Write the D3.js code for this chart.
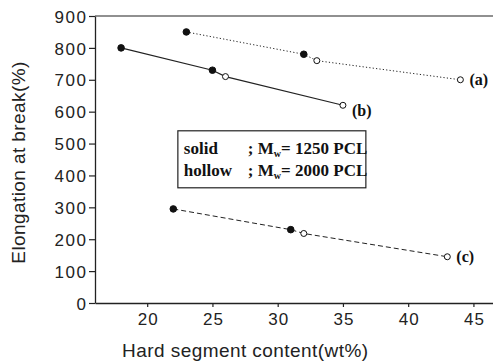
<!DOCTYPE html>
<html>
<head>
<meta charset="utf-8">
<script src="https://cdn.jsdelivr.net/npm/d3@7"></script>
<style>
  body { margin: 0; background: #fff; }
  .tick text { font-family: "Liberation Sans", Arial, sans-serif; font-size: 17px; fill: #222; }
</style>
</head>
<body>
<figure id="chart" style="margin:0"></figure>
<script>
// data
var seriesNames = ["(a)", "(b)", "(c)"];
var hardA = [23, 32, 33, 44];
var elongA = [850, 780, 760, 700];
var hardB = [18, 25, 26, 35];
var elongB = [800, 730, 710, 620];
var hardC = [22, 31, 32, 43];
var elongC = [295, 230, 218, 145];
// first two points solid (Mw 1250), last two hollow (Mw 2000)
var filled = [true, true, false, false];
var xTicks = [20, 25, 30, 35, 40, 45];
var yTicks = [0, 100, 200, 300, 400, 500, 600, 700, 800, 900];

let dimensions = {
    width: 493,
    height: 364,
    margin: { top: 16, right: 0, bottom: 61, left: 95 },
};
dimensions.boundedWidth = dimensions.width - dimensions.margin.left - dimensions.margin.right;
dimensions.boundedHeight = dimensions.height - dimensions.margin.top - dimensions.margin.bottom;

var svg = d3.select("figure#chart")
    .append("svg")
    .attr("width", dimensions.width)
    .attr("height", dimensions.height)
    .append("g")
    .attr("transform", `translate(${dimensions.margin.left}, ${dimensions.margin.top})`);

var xScale = d3.scaleLinear()
    .domain([16, 46.5])
    .range([0, dimensions.boundedWidth]);

var yScale = d3.scaleLinear()
    .domain([0, 900])
    .range([dimensions.boundedHeight, 0]);

// top frame line
svg.append("line")
    .attr("x1", 0).attr("x2", dimensions.boundedWidth)
    .attr("y1", 0).attr("y2", 0)
    .attr("stroke", "#222").attr("stroke-width", 1.2);

var xAxis = svg.append("g")
    .attr("transform", `translate(0, ${dimensions.boundedHeight})`)
    .call(d3.axisBottom(xScale).tickValues(xTicks).tickSize(4).tickSizeOuter(0).tickPadding(6));

var yAxis = svg.append("g")
    .call(d3.axisLeft(yScale).tickValues(yTicks).tickSize(6).tickSizeOuter(0).tickPadding(3));

svg.selectAll(".domain").attr("stroke", "#222").attr("stroke-width", 1.3);
svg.selectAll(".tick line").attr("stroke", "#222").attr("stroke-width", 1.2);
xAxis.selectAll("text").attr("textLength", d => String(d).length * 10);
yAxis.selectAll("text").attr("textLength", d => String(d).length * 10.5).attr("dy", "0.36em");

// axis titles
svg.append("text")
    .attr("x", xScale(27.5))
    .attr("y", dimensions.boundedHeight + 54)
    .attr("text-anchor", "middle")
    .attr("font-family", "Liberation Sans, Arial, sans-serif")
    .attr("font-size", 19)
    .attr("fill", "#222")
    .attr("textLength", 246)
    .text("Hard segment content(wt%)");

svg.append("text")
    .attr("transform", `translate(-70, ${yScale(440)}) rotate(-90)`)
    .attr("text-anchor", "middle")
    .attr("font-family", "Liberation Sans, Arial, sans-serif")
    .attr("font-size", 19)
    .attr("fill", "#222")
    .attr("textLength", 202)
    .text("Elongation at break(%)");

var series = [
    { name: seriesNames[0], xs: hardA, ys: elongA, dash: "1.2,2.2", width: 1 },
    { name: seriesNames[1], xs: hardB, ys: elongB, dash: null, width: 1.2 },
    { name: seriesNames[2], xs: hardC, ys: elongC, dash: "5,3", width: 1 },
];

var line = d3.line()
    .x(d => xScale(d[0]))
    .y(d => yScale(d[1]));

series.forEach(function(s) {
    var pts = s.xs.map((x, i) => [x, s.ys[i], filled[i]]);
    svg.append("path")
        .datum(pts)
        .attr("d", line)
        .attr("fill", "none")
        .attr("stroke", "#222")
        .attr("stroke-width", s.width)
        .attr("stroke-dasharray", s.dash);

    svg.selectAll(null)
        .data(pts)
        .enter()
        .append("circle")
        .attr("cx", d => xScale(d[0]))
        .attr("cy", d => yScale(d[1]))
        .attr("r", d => d[2] ? 3.3 : 3)
        .attr("fill", d => d[2] ? "#111" : "#fff")
        .attr("stroke", "#111")
        .attr("stroke-width", 1);

    var last = pts[pts.length - 1];
    svg.append("text")
        .attr("x", xScale(last[0]) + 9)
        .attr("y", yScale(last[1]) + 5 + (s.name == "(b)" ? 6 : 0))
        .attr("font-family", "Liberation Serif, Times New Roman, serif")
        .attr("font-weight", "bold")
        .attr("font-size", 16)
        .attr("fill", "#111")
        .text(s.name);
});

// legend box
var legend = svg.append("g")
    .attr("transform", `translate(${xScale(22.35)}, ${yScale(540)})`);

legend.append("rect")
    .attr("width", 188)
    .attr("height", 57)
    .attr("fill", "#fff")
    .attr("stroke", "#222")
    .attr("stroke-width", 1.2);

var legendRows = [["solid", "1250 PCL"], ["hollow", "2000 PCL"]];
legendRows.forEach(function(r, i) {
    var t = legend.append("text")
        .attr("y", 23 + i * 22)
        .attr("font-family", "Liberation Serif, Times New Roman, serif")
        .attr("font-weight", "bold")
        .attr("font-size", 17)
        .attr("fill", "#111");
    t.append("tspan").attr("x", 6).text(r[0]);
    t.append("tspan").attr("x", 70).text("; M");
    t.append("tspan").attr("font-size", 10).attr("dy", 3).text("w");
    t.append("tspan").attr("dy", -3).text("= " + r[1]);
});
</script>
</body>
</html>
